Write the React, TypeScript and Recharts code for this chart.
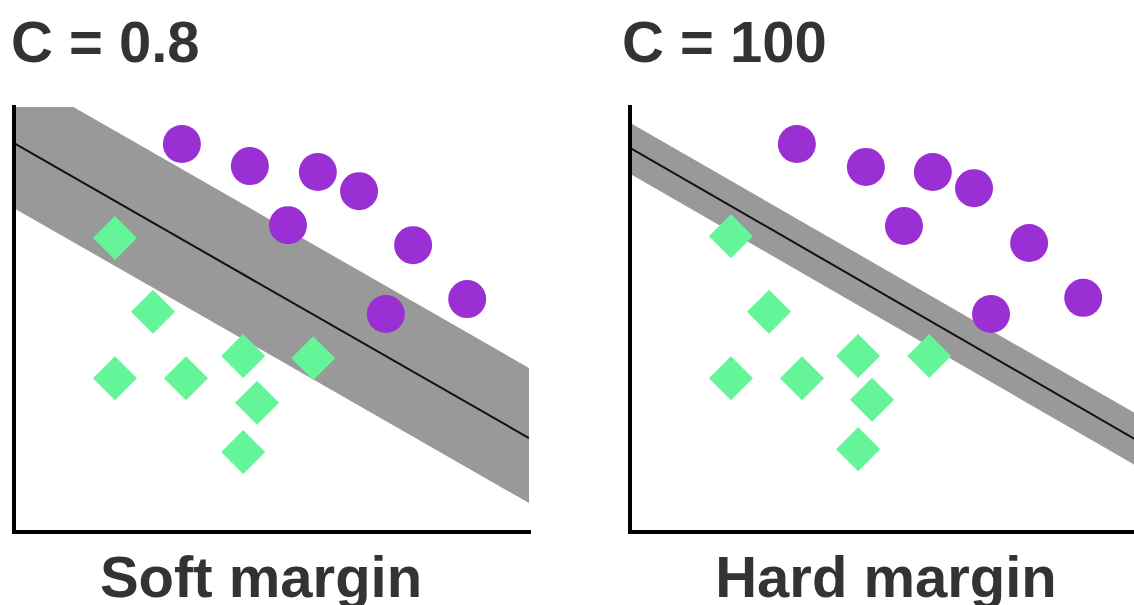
import React from 'react'
import {
  ComposedChart,
  XAxis,
  YAxis,
  Area,
  Line,
  Scatter,
} from 'recharts'

// data space: x and y both run 0..100 inside each plot box
const softPurple = [
  { x: 32.6, y: 91.3 },
  { x: 45.8, y: 86.1 },
  { x: 59.0, y: 84.7 },
  { x: 67.0, y: 80.2 },
  { x: 53.2, y: 72.2 },
  { x: 77.5, y: 67.5 },
  { x: 88.0, y: 54.8 },
  { x: 72.2, y: 51.3 },
]
const softGreen = [
  { x: 19.6, y: 69.2 },
  { x: 27.0, y: 51.8 },
  { x: 19.6, y: 36.2 },
  { x: 33.4, y: 36.2 },
  { x: 44.5, y: 41.4 },
  { x: 58.1, y: 40.9 },
  { x: 47.2, y: 30.4 },
  { x: 44.5, y: 18.8 },
]
const softLine = [
  { x: 0, y: 91.5 },
  { x: 100, y: 22.1 },
]
const softBand = [
  { x: 0, y: [76.2, 108] },
  { x: 100, y: [6.8, 38.6] },
]

const hardPurple = [
  { x: 32.4, y: 91.3 },
  { x: 45.8, y: 85.9 },
  { x: 58.8, y: 84.7 },
  { x: 66.8, y: 80.9 },
  { x: 53.2, y: 72.0 },
  { x: 77.5, y: 68.0 },
  { x: 88.0, y: 55.1 },
  { x: 70.1, y: 51.3 },
]
const hardGreen = [
  { x: 19.6, y: 69.6 },
  { x: 27.0, y: 51.8 },
  { x: 19.6, y: 36.2 },
  { x: 33.4, y: 36.2 },
  { x: 44.3, y: 41.4 },
  { x: 58.1, y: 41.4 },
  { x: 47.0, y: 31.1 },
  { x: 44.3, y: 19.5 },
]
const hardLine = [
  { x: 0, y: 90.4 },
  { x: 100, y: 20.5 },
]
const hardBand = [
  { x: 0, y: [84.3, 96.3] },
  { x: 100, y: [14.4, 26.6] },
]

const PURPLE = '#9a2fd3'
const GREEN = '#64f598'
const BAND = '#999999'
const TEXT = '#333333'
const FONT = '"Liberation Sans", Arial, sans-serif'

const CircleDot = (props: any) => (
  <circle cx={props.cx} cy={props.cy} r={19} fill={PURPLE} />
)

const DiamondDot = (props: any) => {
  const { cx, cy } = props
  const h = 22
  return (
    <polygon
      points={`${cx},${cy - h} ${cx + h},${cy} ${cx},${cy + h} ${cx - h},${cy}`}
      fill={GREEN}
    />
  )
}

interface PanelProps {
  purple: { x: number; y: number }[]
  green: { x: number; y: number }[]
  line: { x: number; y: number }[]
  band: { x: number; y: number[] }[]
  left: number
}

const axisStyle = { stroke: '#000', strokeWidth: 4, strokeLinecap: 'square' as const }

function Panel({ purple, green, line, band, left }: PanelProps) {
  return (
    <div style={{ position: 'absolute', left, top: 0 }}>
      <ComposedChart
        width={560}
        height={605}
        margin={{ top: 107, right: 31, bottom: 63, left: 4 }}
      >
        <XAxis
          type="number"
          dataKey="x"
          domain={[0, 100]}
          allowDataOverflow
          height={10}
          tick={false}
          tickLine={false}
          axisLine={axisStyle}
        />
        <YAxis
          type="number"
          dataKey="y"
          domain={[0, 100]}
          allowDataOverflow
          width={10}
          tick={false}
          tickLine={false}
          axisLine={axisStyle}
        />
        <Area
          data={band}
          dataKey="y"
          type="linear"
          fill={BAND}
          fillOpacity={1}
          stroke="none"
          isAnimationActive={false}
        />
        <Line
          data={line}
          dataKey="y"
          type="linear"
          stroke="#111"
          strokeWidth={2}
          dot={false}
          isAnimationActive={false}
        />
        <Scatter data={purple} dataKey="y" shape={CircleDot} isAnimationActive={false} />
        <Scatter data={green} dataKey="y" shape={DiamondDot} isAnimationActive={false} />
      </ComposedChart>
    </div>
  )
}

export default function App() {
  return (
    <div
      style={{
        position: 'absolute',
        left: 0,
        top: 0,
        width: 1134,
        height: 605,
        overflow: 'hidden',
        background: '#fff',
      }}
    >
      <Panel purple={softPurple} green={softGreen} line={softLine} band={softBand} left={0} />
      <Panel purple={hardPurple} green={hardGreen} line={hardLine} band={hardBand} left={616} />
      <svg
        width={1134}
        height={605}
        style={{ position: 'absolute', left: 0, top: 0, pointerEvents: 'none' }}
      >
        <g fontFamily={FONT} fontWeight="bold" fill={TEXT}>
          <text x={11} y={62} fontSize={58}>C = 0.8</text>
          <text x={622} y={62} fontSize={58}>C = 100</text>
          <text x={261} y={597} fontSize={58} textAnchor="middle">Soft margin</text>
          <text x={886} y={597} fontSize={58} textAnchor="middle">Hard margin</text>
        </g>
      </svg>
    </div>
  )
}
